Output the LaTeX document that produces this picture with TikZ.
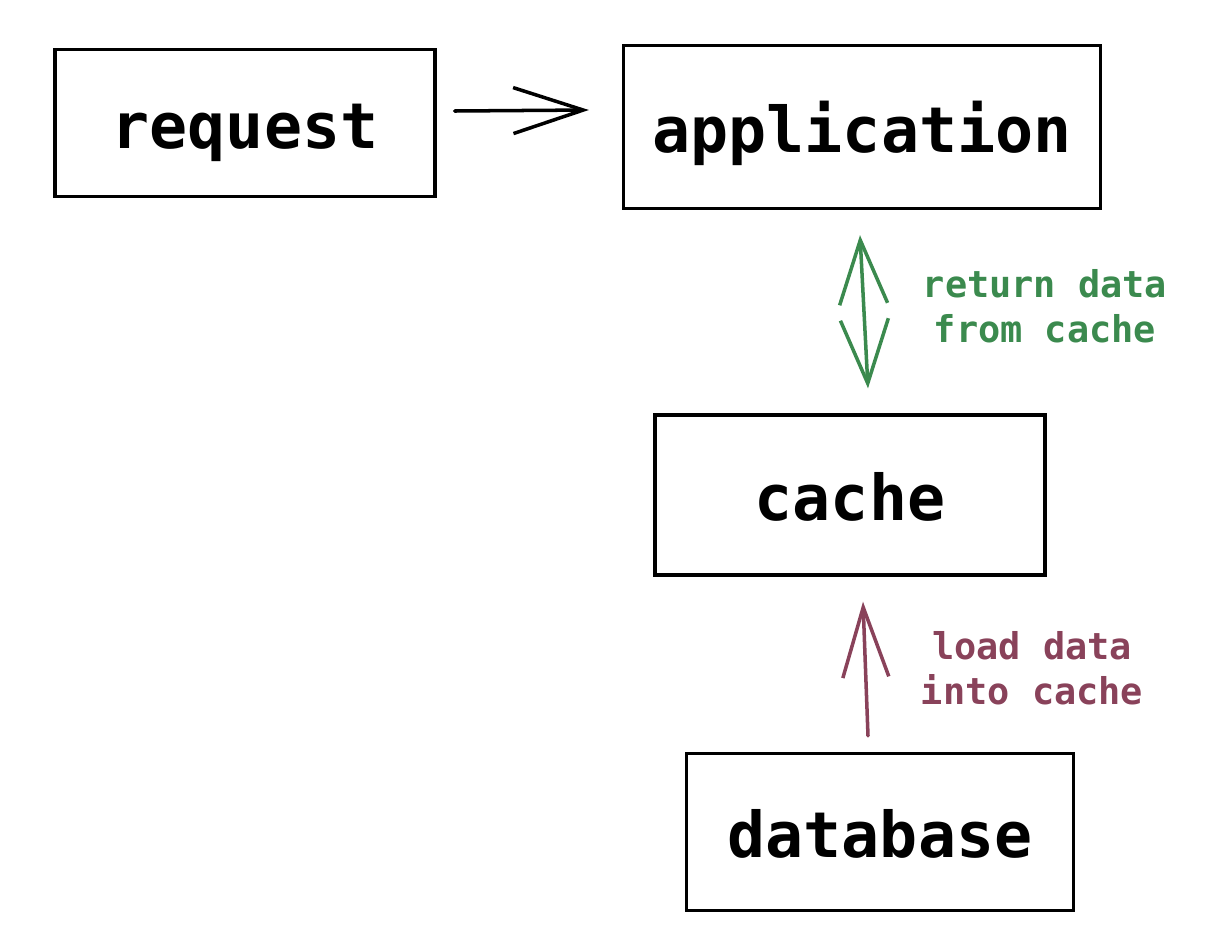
\documentclass[tikz,border=0pt]{standalone}
\usepackage{fontspec}
\setmonofont{DejaVu Sans Mono}
\usepackage{tikz}
\usetikzlibrary{arrows.meta}
\definecolor{okgreen}{RGB}{59,138,78}
\definecolor{loadred}{RGB}{137,66,90}
\tikzset{box/.style={draw=black,line width=1.9pt,inner sep=0pt,text height=1cm,text depth=0pt,font=\fontsize{36}{36}\selectfont\ttfamily\bfseries}}
\tikzset{l/.style={align=center,font=\fontsize{21}{25.6}\selectfont\ttfamily\bfseries}}
\tikzset{barb/.tip={Straight Barb[length=1.4cm,width=0.92cm,line width=2pt]}}
\tikzset{shortbarb/.tip={Straight Barb[length=1.28cm,width=0.96cm,line width=2pt]}}
\tikzset{arr/.style={line width=2pt,line cap=round,-barb}}

\begin{document}
\begin{tikzpicture}[x=0.02cm,y=-0.02cm]
            \useasboundingbox (0,0) rectangle (1214,948);
            \node[box,minimum width=7.6cm,minimum height=2.94cm] (request) at (245,123) {request};
            \node[box,minimum width=9.54cm,minimum height=3.26cm] (application) at (862,127) {application};
            \node[box,minimum width=7.8cm,minimum height=3.2cm] (cache) at (850,495) {cache};
            \node[box,minimum width=7.74cm,minimum height=3.14cm] (database) at (880,832) {database};
            % connectors
            \draw[arr] ([shift={(18,-12)}]request.east) -- ([shift={(-33,-17)}]application.west);
            \draw[arr,okgreen,shortbarb-shortbarb]
              ([shift={(-2,25)}]application.south) -- ([shift={(18,-25)}]cache.north);
            \draw[arr,loadred] ([shift={(-12,-16)}]database.north) -- ([shift={(13,25)}]cache.south);
            % labels
            \node[l,text=okgreen] (returnlbl) at (1045,306) {return data\\from cache};
            \node[l,text=loadred] (loadlbl) at (1032,668) {load data\\into cache};
\end{tikzpicture}
\end{document}
